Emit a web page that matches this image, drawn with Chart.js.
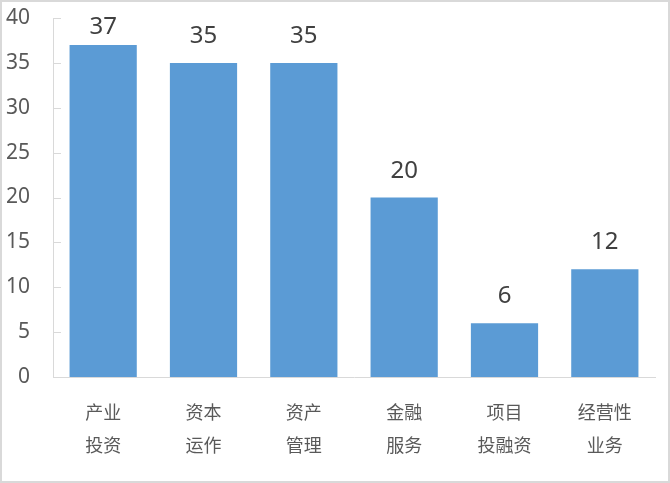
<!DOCTYPE html>
<html>
<head>
<meta charset="utf-8">
<script src="https://cdn.jsdelivr.net/npm/chart.js@4/dist/chart.umd.min.js"></script>
<style>
  html, body { margin: 0; padding: 0; background: #fff; }
  #wrap { position: relative; width: 670px; height: 483px; }
  #frame { position: absolute; inset: 0; border: 2px solid #d9d9d9; pointer-events: none; }
</style>
</head>
<body>
<div id="wrap">
  <canvas id="barChart" width="670" height="483"></canvas>
  <div id="frame"></div>
</div>
<script>
// data
const categories = [['产业', '投资'], ['资本', '运作'], ['资产', '管理'], ['金融', '服务'], ['项目', '投融资'], ['经营性', '业务']];
const counts = [37, 35, 35, 20, 6, 12];
const yTicks = [0, 5, 10, 15, 20, 25, 30, 35, 40];

const barColor = '#5b9bd5';
const textColor = '#595959';
const fontFamily = "'Noto Sans', 'Noto Sans CJK SC', sans-serif";

// value labels above each bar (kept inside the plot like the original)
const valueLabels = {
    id: 'valueLabels',
    afterDatasetsDraw(chart) {
        const ctx = chart.ctx;
        const meta = chart.getDatasetMeta(0);
        const minBase = chart.chartArea.top + 16;
        ctx.save();
        ctx.font = '24px ' + fontFamily;
        ctx.fillStyle = '#404040';
        ctx.textAlign = 'center';
        ctx.textBaseline = 'alphabetic';
        meta.data.forEach((bar, i) => {
            ctx.fillText(String(counts[i]), bar.x, Math.max(bar.y - 20, minBase));
        });
        ctx.restore();
    }
};

// small tick marks pointing into the plot on the value axis
const innerTicks = {
    id: 'innerTicks',
    afterDraw(chart) {
        const ctx = chart.ctx;
        const y = chart.scales.y;
        const left = chart.chartArea.left;
        ctx.save();
        ctx.strokeStyle = '#d9d9d9';
        ctx.lineWidth = 1;
        y.ticks.forEach(t => {
            const py = Math.round(y.getPixelForValue(t.value)) + 0.5;
            ctx.beginPath();
            ctx.moveTo(left, py);
            ctx.lineTo(left + 8, py);
            ctx.stroke();
        });
        ctx.restore();
    }
};

new Chart(document.getElementById('barChart').getContext('2d'), {
    type: 'bar',
    data: {
        labels: categories,
        datasets: [{
            data: counts,
            backgroundColor: barColor,
            borderWidth: 0,
            barPercentage: 1,
            categoryPercentage: 0.67
        }]
    },
    options: {
        responsive: false,
        animation: false,
        devicePixelRatio: 1,
        layout: { padding: { top: 18, right: 15, bottom: 0, left: 0 } },
        plugins: { legend: { display: false }, tooltip: { enabled: false } },
        scales: {
            x: {
                grid: { display: false },
                border: { display: true, color: '#d9d9d9', width: 1 },
                ticks: {
                    color: textColor,
                    font: { family: fontFamily, size: 18, lineHeight: 1.8 },
                    padding: 13,
                    maxRotation: 0,
                    autoSkip: false
                },
                afterFit(scale) {
                    scale.height = 106;
                    scale.paddingLeft = 0;
                    scale.paddingRight = 0;
                }
            },
            y: {
                min: 0,
                max: 40,
                afterBuildTicks(scale) { scale.ticks = yTicks.map(v => ({ value: v })); },
                grid: { display: false, drawTicks: false },
                border: { display: true, color: '#d9d9d9', width: 1 },
                ticks: {
                    color: textColor,
                    font: { family: fontFamily, size: 21 },
                    padding: 23
                },
                afterFit(scale) {
                    scale.width = 53;
                    scale.paddingTop = 0;
                    scale.paddingBottom = 0;
                }
            }
        }
    },
    plugins: [valueLabels, innerTicks]
});
</script>
</body>
</html>
